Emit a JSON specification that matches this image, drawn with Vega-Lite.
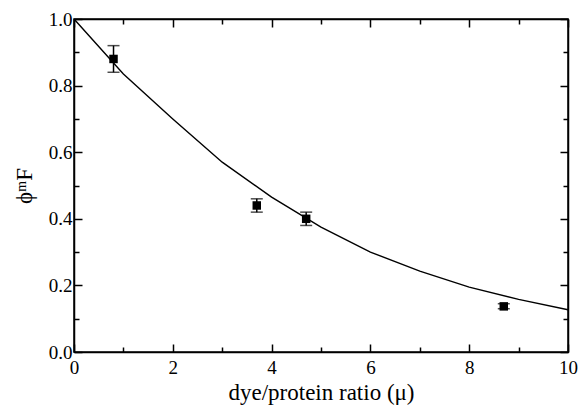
{
  "$schema": "https://vega.github.io/schema/vega-lite/v6.json",
  "width": 494,
  "height": 333,
  "autosize": {"type": "none"},
  "padding": {"left": 74, "top": 19, "right": 11, "bottom": 58},
  "background": "white",
  "config": {
    "view": {"stroke": "black", "strokeWidth": 1.5},
    "font": "Liberation Serif",
    "axis": {
      "grid": false,
      "domainColor": "black",
      "domainWidth": 1.5,
      "tickColor": "black",
      "tickWidth": 1.5,
      "labelFont": "Liberation Serif",
      "labelFontSize": 19,
      "labelColor": "black",
      "titleFont": "Liberation Serif",
      "titleFontSize": 23,
      "titleFontWeight": "normal",
      "titleColor": "black",
      "labelOverlap": false,
      "labelFlush": false
    }
  },
  "datasets": {
    "curve": [
      {"mu": 0, "phi": 1.0},
      {"mu": 1, "phi": 0.835},
      {"mu": 2, "phi": 0.70},
      {"mu": 3, "phi": 0.57},
      {"mu": 4, "phi": 0.465},
      {"mu": 5, "phi": 0.375},
      {"mu": 6, "phi": 0.30},
      {"mu": 7, "phi": 0.243},
      {"mu": 8, "phi": 0.195},
      {"mu": 9, "phi": 0.158},
      {"mu": 10, "phi": 0.127}
    ],
    "pts": [
      {"mu": 0.8, "phi": 0.88, "lo": 0.84, "hi": 0.92},
      {"mu": 3.7, "phi": 0.44, "lo": 0.42, "hi": 0.46},
      {"mu": 4.7, "phi": 0.40, "lo": 0.38, "hi": 0.42},
      {"mu": 8.7, "phi": 0.137, "lo": 0.13, "hi": 0.145}
    ]
  },
  "layer": [
    {
      "data": {"name": "curve"},
      "mark": {"type": "line", "color": "black", "strokeWidth": 1.4},
      "encoding": {
        "x": {
          "field": "mu", "type": "quantitative",
          "scale": {"domain": [0, 10], "nice": false, "zero": false},
          "axis": {
            "orient": "bottom",
            "title": "dye/protein ratio (μ)",
            "titlePadding": 1,
            "labelFont": "Liberation Serif",
            "values": [0, 1, 2, 3, 4, 5, 6, 7, 8, 9, 10],
            "labelExpr": "datum.value % 2 == 0 ? format(datum.value, 'd') : ''",
            "tickSize": {"condition": {"test": "datum.value % 2 == 0", "value": -8}, "value": -5},
            "labelPadding": 14
          }
        },
        "y": {
          "field": "phi", "type": "quantitative",
          "scale": {"domain": [0, 1], "nice": false, "zero": false},
          "axis": {
            "orient": "left",
            "title": "ϕᵐF",
            "titlePadding": 12,
            "labelFont": "Liberation Serif",
            "values": [0, 0.1, 0.2, 0.3, 0.4, 0.5, 0.6, 0.7, 0.8, 0.9, 1.0],
            "labelExpr": "round(datum.value * 10) % 2 == 0 ? format(datum.value, '.1f') : ''",
            "tickSize": {"condition": {"test": "round(datum.value * 10) % 2 == 0", "value": -8}, "value": -5},
            "labelPadding": 10
          }
        }
      }
    },
    {
      "data": {"name": "pts"},
      "mark": {"type": "rule", "color": "black", "strokeWidth": 1.5},
      "encoding": {
        "x": {
          "field": "mu", "type": "quantitative",
          "axis": {
            "orient": "top",
            "title": null,
            "labels": false,
            "values": [0, 1, 2, 3, 4, 5, 6, 7, 8, 9, 10],
            "tickSize": {"condition": {"test": "datum.value % 2 == 0", "value": -8}, "value": -5}
          }
        },
        "y": {
          "field": "lo", "type": "quantitative",
          "axis": {
            "orient": "right",
            "title": null,
            "labels": false,
            "values": [0, 0.1, 0.2, 0.3, 0.4, 0.5, 0.6, 0.7, 0.8, 0.9, 1.0],
            "tickSize": {"condition": {"test": "round(datum.value * 10) % 2 == 0", "value": -8}, "value": -5}
          }
        },
        "y2": {"field": "hi"}
      }
    },
    {
      "data": {"name": "pts"},
      "mark": {"type": "tick", "orient": "horizontal", "color": "black", "size": 12, "thickness": 1.5},
      "encoding": {
        "x": {"field": "mu", "type": "quantitative", "axis": null},
        "y": {"field": "lo", "type": "quantitative", "axis": null}
      }
    },
    {
      "data": {"name": "pts"},
      "mark": {"type": "tick", "orient": "horizontal", "color": "black", "size": 12, "thickness": 1.5},
      "encoding": {
        "x": {"field": "mu", "type": "quantitative", "axis": null},
        "y": {"field": "hi", "type": "quantitative", "axis": null}
      }
    },
    {
      "data": {"name": "pts"},
      "mark": {"type": "square", "color": "black", "filled": true, "opacity": 1, "size": 72},
      "encoding": {
        "x": {"field": "mu", "type": "quantitative", "axis": null},
        "y": {"field": "phi", "type": "quantitative", "axis": null}
      }
    }
  ]
}
